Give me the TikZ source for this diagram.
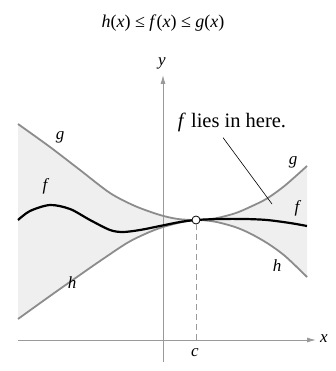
\documentclass[tikz,border=0pt]{standalone}
\usepackage{fontspec}
\setmainfont{Liberation Serif}
\usetikzlibrary{arrows.meta}
\definecolor{gcol}{HTML}{8C8C8C}
\definecolor{fillcol}{HTML}{EFEFEF}
\definecolor{acol}{HTML}{9A9A9A}
\begin{document}
\begin{tikzpicture}[x=1pt,y=-1pt,
  curvegray/.style={draw=gcol, line width=1.8pt},
  fcurve/.style={draw=black, line width=2.2pt},
  axis/.style={draw=acol, line width=0.9pt},
  lbl/.style={font=\fontsize{17}{18}\selectfont\itshape, inner sep=0pt},
  txt/.style={font=\fontsize{18}{19}\selectfont, inner sep=0pt}]
\useasboundingbox (0,0) rectangle (336,371);
% shaded region between g and h
\fill[fillcol] plot[smooth] coordinates {(18,124) (50,147) (80,170) (110,193) (135,206) (160,215) (178,219) (196,220) (215,218.4) (235,213.3) (250,207) (267,198.5) (285,185.5) (307,166)}
  -- plot[smooth] coordinates {(307,277) (285,256) (267,243) (250,233.4) (235,227) (215,221.7) (196,220) (178,223) (160,228) (145,234) (127,243) (100,261) (77,277) (50,296) (18,319)} -- cycle;
% axes
\coordinate (xl) at (18,340);
\coordinate (xr) at (316,340);
\coordinate (yb) at (163,362);
\coordinate (yt) at (163,75);
\draw[axis, -{Latex[length=9pt,width=5pt]}] (xl) -- (xr);
\draw[axis, -{Latex[length=9pt,width=5pt]}] (yb) -- (yt);
\node[lbl] (ylab) at (162,63) {y};
\node[lbl] (xlab) at (324,339) {x};
% curves
\draw[curvegray] plot[smooth] coordinates {(18,124) (50,147) (80,170) (110,193) (135,206) (160,215) (178,219) (196,220) (215,218.4) (235,213.3) (250,207) (267,198.5) (285,185.5) (307,166)};
\draw[curvegray] plot[smooth] coordinates {(18,319) (50,296) (77,277) (100,261) (127,243) (145,234) (160,228) (178,223) (196,220) (215,221.7) (235,227) (250,233.4) (267,243) (285,256) (307,277)};
\draw[fcurve] plot[smooth] coordinates {(18,220) (30,211) (50,205) (70,209) (90,220) (110,230) (123,232) (140,230) (160,226) (180,222) (196,220) (220,219) (245,219) (267,220) (290,223) (307,226)};
% point c
\node[circle, draw=black, fill=white, line width=0.8pt, inner sep=0pt, minimum size=8pt] (cpt) at (196,220) {};
\coordinate (cx) at (196,340);
\draw[acol, line width=0.9pt, dash pattern=on 6pt off 4pt] (cpt.south) -- (cx);
\node[lbl] (clab) at (195,353) {c};
% curve labels
\node[lbl] (gl) at (60,137) {g};
\node[lbl] (fl) at (45,186) {f};
\node[lbl] (hl) at (72,283) {h};
\node[lbl] (gr) at (293,162) {g};
\node[lbl] (fr) at (297,208) {f};
\node[lbl] (hr) at (277,266) {h};
% annotation
\node[txt, font=\fontsize{20.5}{21}\selectfont] (lies) at (232,122) {\textit{f} lies in here.};
\coordinate (ptr) at (272,204);
\draw[black, line width=0.6pt] (lies.south) ++(-9,6) -- (ptr);
% title
\node[txt] (title) at (163,23) {\textit{h}(\textit{x}) ≤ \textit{f}(\textit{x}) ≤ \textit{g}(\textit{x})};
\end{tikzpicture}
\end{document}
